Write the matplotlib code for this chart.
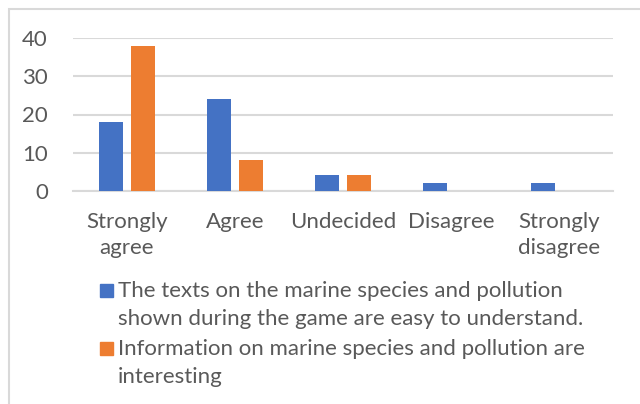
import matplotlib.pyplot as plt
import numpy as np
from matplotlib.patches import Rectangle

plt.rcParams['font.family'] = ['Lato', 'DejaVu Sans']

# survey answers
categories = ['Strongly\nagree', 'Agree', 'Undecided', 'Disagree', 'Strongly\ndisagree']
texts_easy = [18, 24, 4, 2, 2]
info_interesting = [38, 8, 4, 0, 0]
series_labels = [['The texts on the marine species and pollution',
                  'shown during the game are easy to understand.'],
                 ['Information on marine species and pollution are',
                  'interesting']]

blue = '#4472C4'
orange = '#ED7D31'
grid_gray = '#D9D9D9'
text_gray = '#595959'
fs = 16

fig = plt.figure(figsize=(6.4, 4.04), dpi=100)
ax = fig.add_axes([73 / 640, 1 - 190.7 / 404, 540 / 640, (190.7 - 38.3) / 404])

x = np.arange(len(categories))
w = 0.222
ax.bar(x - 0.144, texts_easy, w, color=blue, zorder=3)
ax.bar(x + 0.144, info_interesting, w, color=orange, zorder=3)

ax.set_xlim(-0.5, len(categories) - 0.5)
ax.set_ylim(0, 40)
ax.set_yticks([0, 10, 20, 30, 40])
ax.yaxis.grid(True, color=grid_gray, linewidth=1.5, zorder=0)
for s in ['top', 'right', 'left']:
    ax.spines[s].set_visible(False)
ax.spines['bottom'].set_color(grid_gray)
ax.spines['bottom'].set_linewidth(1.5)
ax.tick_params(axis='both', length=0, labelsize=fs, colors=text_gray)
ax.tick_params(axis='y', pad=18)
ax.tick_params(axis='x', pad=15)
ax.set_xticks(x)
ax.set_xticklabels(categories, linespacing=1.4)

# legend, drawn by hand so the marker sits on the first line
baselines = [[297, 325], [355, 383]]
for lines, base, col in zip(series_labels, baselines, [blue, orange]):
    fig.patches.append(Rectangle((100 / 640, 1 - (base[0]) / 404), 13 / 640, 13 / 404,
                                 transform=fig.transFigure, color=col))
    for line, b in zip(lines, base):
        fig.text(118 / 640, 1 - b / 404, line, fontsize=fs, color=text_gray,
                 va='baseline', ha='left')

# chart frame
fig.patches.append(Rectangle((9 / 640, -0.1), 1.2, 1 - 9 / 404 + 0.1, transform=fig.transFigure,
                             fill=False, edgecolor=grid_gray, linewidth=1.5))

fig.savefig('out.png', dpi=100)
